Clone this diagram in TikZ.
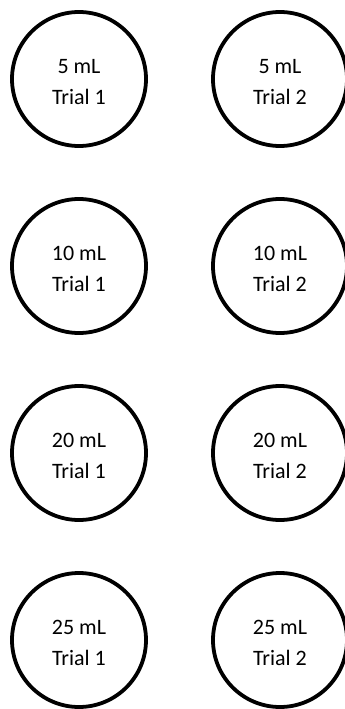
\documentclass[tikz,border=0pt]{standalone}
\usepackage{fontspec}
\setmainfont{Carlito}
\begin{document}
\begin{tikzpicture}[x=1pt,y=-1pt,
    flask/.style={circle,draw,line width=3.8pt,minimum size=134pt,inner sep=0pt,
      path picture={\node[align=center,font=\fontsize{22}{31}\selectfont]
        at ([yshift=-3pt]path picture bounding box.center) {#1};}}]
      \useasboundingbox (0,0) rectangle (345,709);
      \draw
        (79,79) node[flask={5 mL\\Trial 1}] (a1){}
        (280,79) node[flask={5 mL\\Trial 2}] (a2){}
        (79,266) node[flask={10 mL\\Trial 1}] (b1){}
        (280,266) node[flask={10 mL\\Trial 2}] (b2){}
        (79,453) node[flask={20 mL\\Trial 1}] (c1){}
        (280,453) node[flask={20 mL\\Trial 2}] (c2){}
        (79,640) node[flask={25 mL\\Trial 1}] (d1){}
        (280,640) node[flask={25 mL\\Trial 2}] (d2){};
    \end{tikzpicture}
\end{document}
